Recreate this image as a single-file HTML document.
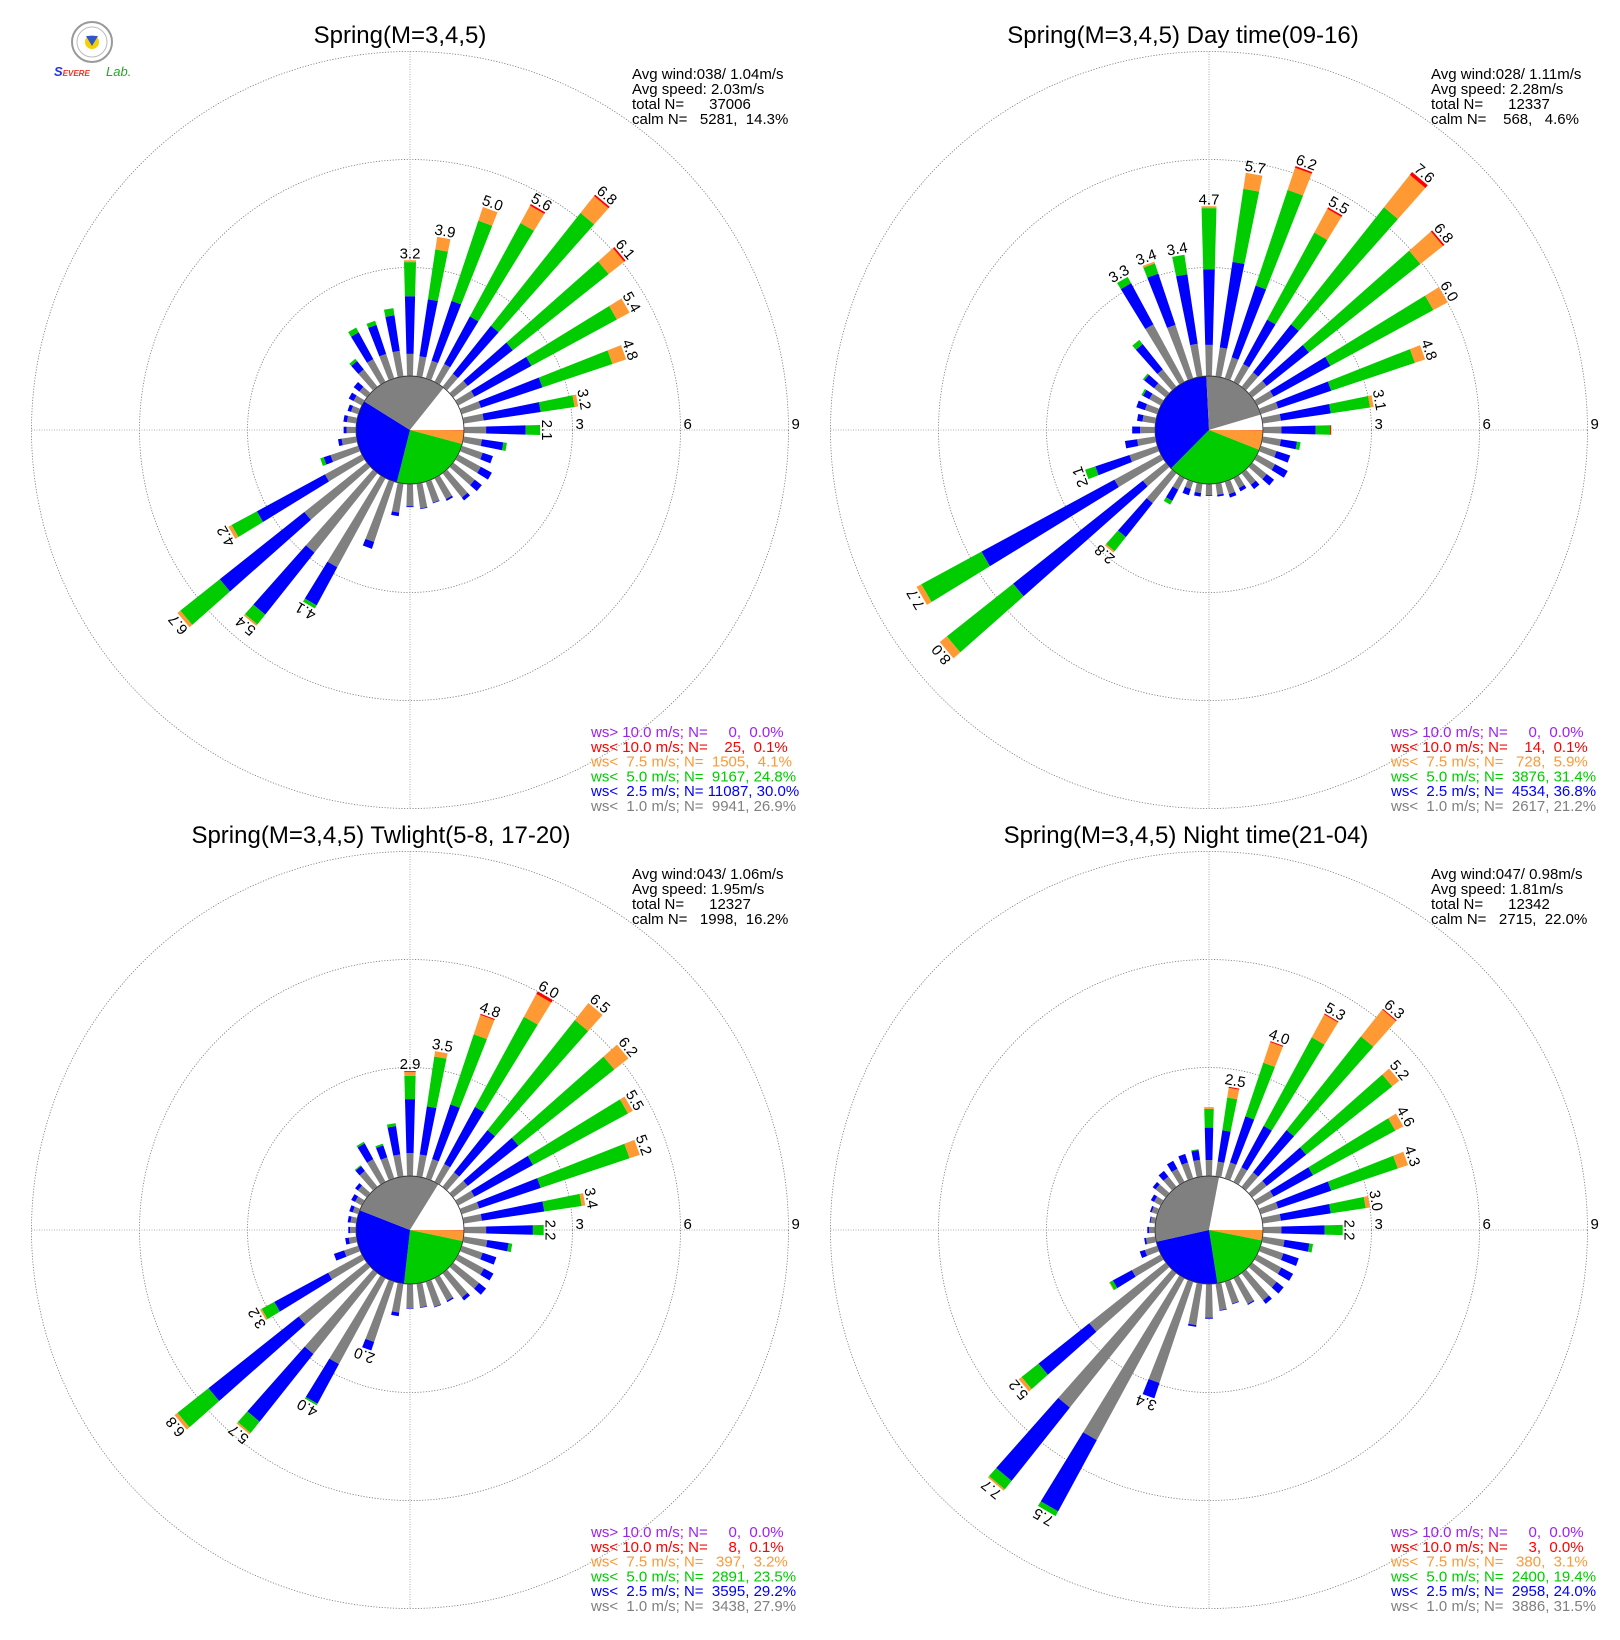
<!DOCTYPE html>
<html><head><meta charset="utf-8"><style>
html,body{margin:0;padding:0;background:#fff;}
svg{display:block;font-family:"Liberation Sans",Arial,sans-serif;}
text{white-space:pre;}
</style></head><body>
<svg id="chart" width="1620" height="1640" viewBox="0 0 1620 1640" xmlns="http://www.w3.org/2000/svg">
<rect width="1620" height="1640" fill="#fff"/>
<g>
  <circle cx="92" cy="42" r="20" fill="#fff" stroke="#999" stroke-width="2"/>
  <circle cx="92" cy="42" r="15" fill="none" stroke="#bbb" stroke-width="1"/>
  <circle cx="92" cy="42" r="7" fill="#f5d000"/>
  <polygon points="86,36 98,36 92,46" fill="#3355cc"/>
  <text x="54" y="76" font-size="13" font-style="italic" font-weight="bold" fill="#2233ee">S<tspan fill="#ee3322" font-size="8">EVERE</tspan></text>
  <text x="106" y="76" font-size="13" font-style="italic" fill="#22aa22">Lab.</text>
</g>
</svg>
<script>
// categories
const directions = [0,10,20,30,40,50,60,70,80,90,100,110,120,130,140,150,160,170,180,190,200,210,220,230,240,250,260,270,280,290,300,310,320,330,340,350];
const ringTicks = [3,6,9];
const speedClasses = ["gray","blue","green","orange","red"];
// Panel 1: Spring all
const p1Gray   = [.6,.55,.5,.55,.45,.5,.5,.55,.55,.6,.5,.6,.7,.75,.85,.65,.6,.68,.6,.8,1.75,2.8,2.8,2.2,1.15,.8,.4,.25,.25,.2,.25,.25,.6,.7,.7,.7];
const p1Blue   = [1.6,1.6,1.75,1.5,1.7,1.6,1.8,1.8,1.6,1.1,.6,.3,.35,.25,.1,.05,.02,.02,.03,.1,.2,1.2,2.2,3.0,2.15,.2,.1,.08,.1,.1,.15,.2,.3,.85,.85,1.0];
const p1Green  = [.95,1.4,2.35,2.95,4.0,3.4,2.7,2.05,.95,.4,.1,0,0,0,0,0,0,0,0,0,0,.1,.35,1.4,.8,.1,0,0,0,0,0,0,.08,.15,.12,.2];
const p1Orange = [.05,.35,.4,.55,.6,.55,.4,.4,.1,0,0,0,0,0,0,0,0,0,0,0,0,0,.05,.1,.1,0,0,0,0,0,0,0,0,0,0,0];
const p1Red    = [0,0,0,.05,.05,.05,0,0,0,0,0,0,0,0,0,0,0,0,0,0,0,0,0,0,0,0,0,0,0,0,0,0,0,0,0,0];
// Panel 2: Day time
const p2Gray   = [.85,.8,.6,.55,.5,.5,.5,.5,.5,.5,.5,.45,.55,.5,.4,.3,.35,.3,.3,.25,.2,.35,1.05,.8,1.45,.8,.5,.4,.35,.35,.35,.4,.6,1.8,1.55,.9];
const p2Blue   = [2.1,2.4,2.1,1.4,1.7,1.5,1.8,1.55,1.4,.95,.45,.4,.4,.26,.15,.1,.1,.05,.02,.1,.18,.35,1.2,4.6,4.2,1.0,.34,.22,.15,.25,.2,.35,.9,1.3,1.5,1.95];
const p2Green  = [1.7,2.05,2.8,2.75,4.15,3.95,3.25,2.45,1.1,.4,.1,0,0,0,0,0,0,0,0,0,0,.12,.5,2.35,1.9,.3,0,0,0,0,.05,.05,.15,.2,.3,.55];
const p2Orange = [.05,.45,.65,.75,1.15,.8,.45,.3,.1,0,0,0,0,0,0,0,0,0,0,0,0,0,.05,.25,.15,0,0,0,0,0,0,0,0,0,.05,0];
const p2Red    = [0,0,.05,.05,.1,.05,0,0,0,.03,0,0,0,0,0,0,0,0,0,0,0,0,0,0,0,0,0,0,0,0,0,0,0,0,0,0];
// Panel 3: Twilight
const p3Gray   = [.62,.6,.55,.55,.5,.5,.5,.5,.5,.6,.65,.6,.8,.9,.85,.7,.72,.65,.65,.8,1.75,2.7,2.85,2.4,1.05,.4,.2,.15,.15,.15,.2,.3,.55,.7,.6,.6];
const p3Blue   = [1.5,1.35,1.6,1.8,1.5,1.8,1.85,1.8,1.75,1.3,.6,.4,.3,.25,.1,.04,.02,.02,.02,.1,.25,1.25,2.4,3.2,1.7,.3,.1,.05,.08,.1,.12,.1,.17,.5,.35,.8];
const p3Green  = [.65,1.4,2.05,2.85,3.9,3.4,3.0,2.6,1.05,.3,.1,0,0,0,0,0,0,0,0,0,0,.05,.4,1.1,.4,0,0,0,0,0,0,0,.03,.05,.05,.08];
const p3Orange = [.1,.15,.57,.72,.6,.5,.15,.3,.1,0,0,0,0,0,0,0,0,0,0,0,0,0,.05,.1,.05,0,0,0,0,0,0,0,0,0,0,0];
const p3Red    = [.03,0,.03,.08,0,0,0,0,0,0,0,0,0,0,0,0,0,0,0,0,0,0,0,0,0,0,0,0,0,0,0,0,0,0,0,0];
// Panel 4: Night time
const p4Gray   = [.43,.4,.45,.45,.5,.5,.5,.5,.5,.5,.6,.65,.75,.85,.95,.8,.63,.73,.92,1.15,2.95,5.1,4.75,2.7,.9,.35,.25,.15,.12,.15,.2,.35,.35,.4,.45,.45];
const p4Blue   = [.9,.88,1.35,1.3,1.5,1.4,1.25,1.55,1.4,1.2,.7,.45,.37,.25,.12,.03,.02,.02,.03,.05,.45,2.25,2.6,1.8,.6,.15,.05,.05,.03,.05,.1,.1,.2,.25,.25,.27];
const p4Green  = [.52,.92,1.57,2.8,3.32,3.05,2.6,1.95,.98,.5,.1,0,0,0,0,0,0,0,0,0,0,.15,.3,.6,.1,0,0,0,0,0,0,0,0,0,0,.03];
const p4Orange = [.05,.27,.6,.72,.95,.25,.25,.3,.12,0,0,0,0,0,0,0,0,0,0,0,0,0,.05,.1,.02,0,0,0,0,0,0,0,0,0,0,0];
const p4Red    = [0,.03,.03,.03,.03,0,0,0,0,0,0,0,0,0,0,0,0,0,0,0,0,0,0,0,0,0,0,0,0,0,0,0,0,0,0,0];
// Center pie percentages: >10, <10, <7.5, <5, <2.5, <1, calm
const p1Pie = [0,0.1,4.1,24.8,30.0,26.9,14.3];
const p2Pie = [0,0.1,5.9,31.4,36.8,21.2,4.6];
const p3Pie = [0,0.1,3.2,23.5,29.2,27.9,16.2];
const p4Pie = [0,0.0,3.1,19.4,24.0,31.5,22.0];

const NS = "http://www.w3.org/2000/svg";
const svg = document.getElementById("chart");
const COLORS = ["#808080","#0000ff","#00cc00","#ff9933","#ff0000"];
const PIECOLORS = ["#a020f0","#ff0000","#ff9933","#00cc00","#0000ff","#808080","#ffffff"];
const R0 = 54.5, PER = 36, PIE_R = 54;
function rScale(v){ return R0 + PER*v; }
function halfW(r){ return 1.5 + r*0.0268; }
function pt(cx,cy,r,deg){ const a = deg*Math.PI/180; return [cx + r*Math.sin(a), cy - r*Math.cos(a)]; }
function barPt(cx,cy,r,deg,side){ const a = deg*Math.PI/180; const h = halfW(r)*side; return [cx + r*Math.sin(a) + h*Math.cos(a), cy - r*Math.cos(a) + h*Math.sin(a)]; }
function mk(tag, attrs, parent){ const e = document.createElementNS(NS, tag); for (const k in attrs) e.setAttribute(k, attrs[k]); (parent||svg).appendChild(e); return e; }

const panels = [
 {cx:410, cy:430, title:"Spring(M=3,4,5)", tx:400, ty:43, ix:632, iy:79, lx:591, ly:737,
  info:["Avg wind:038/ 1.04m/s","Avg speed: 2.03m/s","total N=      37006","calm N=   5281,  14.3%"],
  legend:["ws> 10.0 m/s; N=     0,  0.0%","ws< 10.0 m/s; N=    25,  0.1%","ws<  7.5 m/s; N=  1505,  4.1%","ws<  5.0 m/s; N=  9167, 24.8%","ws<  2.5 m/s; N= 11087, 30.0%","ws<  1.0 m/s; N=  9941, 26.9%"],
  segs:[p1Gray,p1Blue,p1Green,p1Orange,p1Red], pie:p1Pie, name:"spring-all"},
 {cx:1209, cy:430, title:"Spring(M=3,4,5) Day time(09-16)", tx:1183, ty:43, ix:1431, iy:79, lx:1391, ly:737,
  info:["Avg wind:028/ 1.11m/s","Avg speed: 2.28m/s","total N=      12337","calm N=    568,   4.6%"],
  legend:["ws> 10.0 m/s; N=     0,  0.0%","ws< 10.0 m/s; N=    14,  0.1%","ws<  7.5 m/s; N=   728,  5.9%","ws<  5.0 m/s; N=  3876, 31.4%","ws<  2.5 m/s; N=  4534, 36.8%","ws<  1.0 m/s; N=  2617, 21.2%"],
  segs:[p2Gray,p2Blue,p2Green,p2Orange,p2Red], pie:p2Pie, name:"spring-day"},
 {cx:410, cy:1230, title:"Spring(M=3,4,5) Twlight(5-8, 17-20)", tx:381, ty:843, ix:632, iy:879, lx:591, ly:1537,
  info:["Avg wind:043/ 1.06m/s","Avg speed: 1.95m/s","total N=      12327","calm N=   1998,  16.2%"],
  legend:["ws> 10.0 m/s; N=     0,  0.0%","ws< 10.0 m/s; N=     8,  0.1%","ws<  7.5 m/s; N=   397,  3.2%","ws<  5.0 m/s; N=  2891, 23.5%","ws<  2.5 m/s; N=  3595, 29.2%","ws<  1.0 m/s; N=  3438, 27.9%"],
  segs:[p3Gray,p3Blue,p3Green,p3Orange,p3Red], pie:p3Pie, name:"spring-twilight"},
 {cx:1209, cy:1230, title:"Spring(M=3,4,5) Night time(21-04)", tx:1186, ty:843, ix:1431, iy:879, lx:1391, ly:1537,
  info:["Avg wind:047/ 0.98m/s","Avg speed: 1.81m/s","total N=      12342","calm N=   2715,  22.0%"],
  legend:["ws> 10.0 m/s; N=     0,  0.0%","ws< 10.0 m/s; N=     3,  0.0%","ws<  7.5 m/s; N=   380,  3.1%","ws<  5.0 m/s; N=  2400, 19.4%","ws<  2.5 m/s; N=  2958, 24.0%","ws<  1.0 m/s; N=  3886, 31.5%"],
  segs:[p4Gray,p4Blue,p4Green,p4Orange,p4Red], pie:p4Pie, name:"spring-night"}
];

panels.forEach(P => {
  const g = mk("g", {});
  
  
  const cx=P.cx, cy=P.cy, rMax=rScale(ringTicks[ringTicks.length-1]);
  ringTicks.forEach(t => {
    const c = mk("circle", {cx:cx, cy:cy, r:rScale(t), fill:"none", stroke:"#777", "stroke-width":0.8, "stroke-dasharray":"1.2,1.6"}, g);
    
    
    const tl = mk("text", {x:cx + rScale(t) + 3, y:cy - 1, "font-size":15, fill:"#000"}, g);
    tl.textContent = String(t);
    
    
  });
  const hl = mk("line", {x1:cx-rMax, y1:cy, x2:cx+rMax, y2:cy, stroke:"#999", "stroke-width":0.8, "stroke-dasharray":"1,1.5"}, g);
  
  
  const vl = mk("line", {x1:cx, y1:cy-rMax, x2:cx, y2:cy+rMax, stroke:"#999", "stroke-width":0.8, "stroke-dasharray":"1,1.5"}, g);
  
  
  directions.forEach((d, i) => {
    let cum = 0;
    P.segs.forEach((arr, k) => {
      const v = arr[i];
      if (v <= 0) return;
      const r0 = rScale(cum), r1 = rScale(cum + v);
      cum += v;
      const a = barPt(cx,cy,r0,d,-1), b = barPt(cx,cy,r1,d,-1), c2 = barPt(cx,cy,r1,d,1), e = barPt(cx,cy,r0,d,1);
      const p = mk("path", {d:`M${a[0]},${a[1]}L${b[0]},${b[1]}L${c2[0]},${c2[1]}L${e[0]},${e[1]}Z`, fill:COLORS[k]}, g);
      
      
    });
    if (cum >= 1.995) {
      const q = pt(cx,cy,rScale(cum)+2,d);
      const lab = mk("text", {x:0, y:0, transform:`translate(${q[0]},${q[1]}) rotate(${d})`, "text-anchor":"middle", "font-size":15, fill:"#000"}, g);
      lab.textContent = cum.toFixed(1);
      
      
    }
  });
  const tot = P.pie.reduce((s,x)=>s+x,0);
  let start = 90;
  P.pie.forEach((pct, k) => {
    if (pct <= 0) return;
    const sweep = pct/tot*360, end = start + sweep;
    const a = pt(cx,cy,PIE_R,start), b = pt(cx,cy,PIE_R,end);
    const sl = mk("path", {d:`M${cx},${cy}L${a[0]},${a[1]}A${PIE_R},${PIE_R} 0 ${sweep>180?1:0} 1 ${b[0]},${b[1]}Z`, fill:PIECOLORS[k]}, g);
    
    
    start = end;
  });
  const pc = mk("circle", {cx:cx, cy:cy, r:PIE_R, fill:"none", stroke:"#333", "stroke-width":0.9}, g);
  
  
  const tt = mk("text", {x:P.tx, y:P.ty, "text-anchor":"middle", "font-size":24, fill:"#000"}, g);
  tt.textContent = P.title;
  
  
  P.info.forEach((s, j) => {
    const t = mk("text", {x:P.ix, y:P.iy + j*15, "font-size":15, fill:"#000"}, g);
    t.textContent = s;
    
    
  });
  const lc = ["#a020f0","#ff0000","#ff9933","#00cc00","#0000ff","#808080"];
  P.legend.forEach((s, j) => {
    const t = mk("text", {x:P.lx, y:P.ly + j*14.8, "font-size":15, fill:lc[j]}, g);
    t.textContent = s;
    
    
  });
});
</script>
</body></html>
